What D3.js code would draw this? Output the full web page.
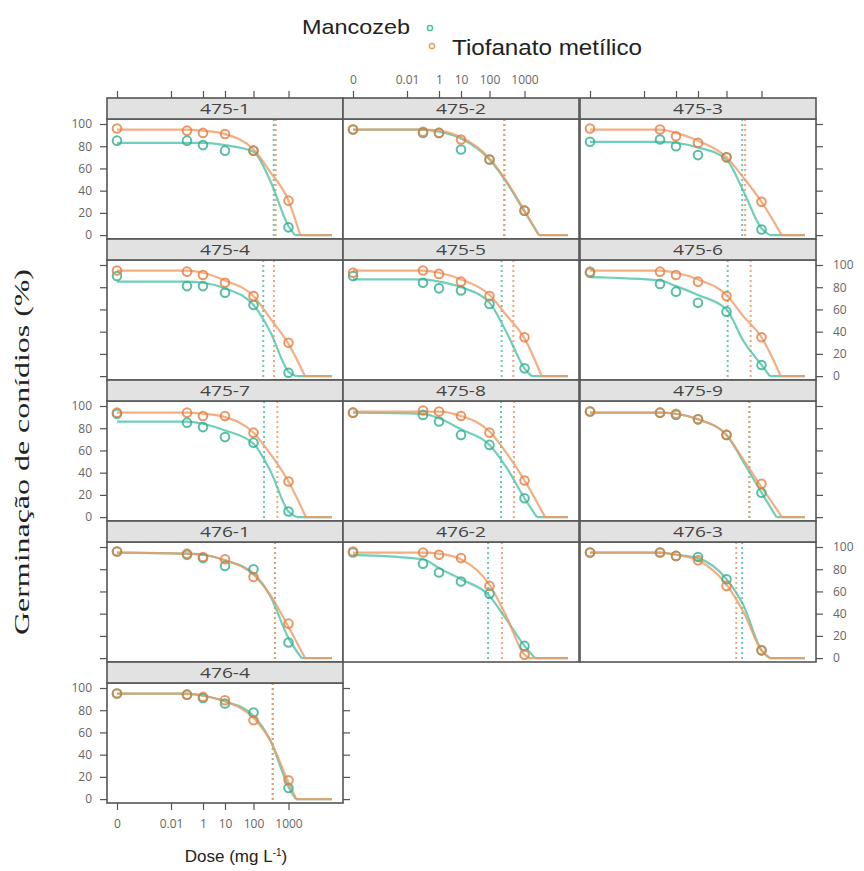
<!DOCTYPE html>
<html>
<head>
<meta charset="utf-8">
<script src="https://cdn.jsdelivr.net/npm/d3@7"></script>
<style>
  body { margin: 0; background: #fff; }
  svg { display: block; }
</style>
</head>
<body>
<script>
// ---------------- data ----------------
const panels = ["475-1","475-2","475-3","475-4","475-5","475-6","475-7","475-8","475-9","476-1","476-2","476-3","476-4"];
const seriesNames = ["Mancozeb", "Tiofanato metílico"];
const doses = [0, 0.1, 1, 10, 100, 1000];
const curveDoses = [0, 0.1, 1, 10, 100, 300, 1000];
const xTicks = [0, 0.01, 1, 10, 100, 1000];
const xTickLabels = ["0", "0.01", "1", "10", "100", "1000"];
const yTicks = [0, 20, 40, 60, 80, 100];

// observed germination (%) at each dose
const obsMancozeb = [
  [85, 85, 81, 76, 76, 7],
  [95, 92, 92, 77, 68, 22],
  [84, 86, 80, 72, 70, 5],
  [90, 81, 81, 75, 64, 3],
  [90, 84, 79, 77, 65, 7],
  [93, 83, 76, 66, 58, 10],
  [93, 85, 81, 72, 67, 5],
  [94, 92, 86, 74, 65, 17],
  [95, 94, 92, 88, 74, 22],
  [96, 93, 90, 83, 80, 14],
  [95, 85, 77, 69, 58, 11],
  [95, 95, 92, 91, 71, 7],
  [95, 94, 91, 86, 78, 10]
];
const obsTiofanato = [
  [96, 94, 92, 91, 76, 31],
  [95, 93, 92, 86, 68, 22],
  [96, 95, 89, 83, 70, 30],
  [95, 94, 91, 84, 72, 30],
  [93, 95, 92, 85, 72, 35],
  [94, 94, 91, 85, 72, 35],
  [94, 94, 91, 91, 76, 32],
  [94, 96, 95, 91, 76, 33],
  [95, 94, 93, 88, 74, 30],
  [96, 94, 91, 89, 73, 31],
  [96, 95, 93, 90, 65, 3],
  [95, 95, 92, 88, 65, 7],
  [95, 94, 92, 89, 71, 17]
];
// fitted curve values read at curveDoses
const fitMancozeb = [
  [83, 83, 83, 81, 75, 49, 8],
  [95, 95, 93, 87, 68, 48, 21],
  [84, 84, 83, 79, 68, 40, 6],
  [85, 85, 84, 79, 64, 40, 4],
  [87, 87, 85, 80, 66, 40, 7],
  [89, 86, 81, 73, 60, 32, 10],
  [86, 86, 84, 78, 66, 42, 5],
  [94, 93, 89, 79, 65, 45, 17],
  [94, 94, 93, 88, 74, 50, 22],
  [95, 94, 93, 88, 76, 56, 18],
  [93, 89, 81, 71, 56, 35, 11],
  [95, 95, 93, 90, 71, 48, 7],
  [95, 95, 93, 88, 75, 53, 11]
];
const fitTiofanato = [
  [95, 95, 94, 91, 77, 57, 31],
  [95, 95, 94, 88, 69, 49, 22],
  [95, 95, 92, 85, 70, 52, 30],
  [95, 95, 93, 86, 72, 52, 29],
  [95, 95, 93, 87, 73, 55, 34],
  [95, 95, 93, 87, 73, 54, 35],
  [94, 94, 93, 90, 76, 57, 32],
  [95, 95, 95, 91, 77, 58, 33],
  [94, 94, 93, 88, 74, 52, 27],
  [95, 94, 93, 88, 75, 57, 28],
  [95, 95, 94, 89, 66, 38, 3],
  [95, 95, 93, 88, 66, 42, 7],
  [95, 95, 93, 88, 73, 53, 15]
];
// dose at which fitted curve reaches 0
const zeroMancozeb  = [1500, 2500, 1700, 1650, 1580, 1700, 1700, 2200, 2600, 2300, 1950, 1700, 1600];
const zeroTiofanato = [2100, 2500, 3600, 2850, 2980, 3400, 3000, 3700, 3700, 2850, 1400, 1700, 1650];
// ED50 (dotted lines)
const ed50Mancozeb  = [380, 265, 280, 190, 223, 108, 200, 213, 450, 410, 89, 280, 355];
const ed50Tiofanato = [430, 265, 340, 385, 480, 490, 480, 500, 450, 410, 227, 190, 355];

// ---------------- layout / style ----------------
const W = 864, H = 871;
const colX = [107, 343, 580];
const panelW = 236;
const rowY0 = 98, rowPitch = 141, stripH = 21;
const xNodes = [-3, -2, 0, 1, 2, 3, 4.2];          // log10 dose (0 dose drawn at -3)
const xNodeRel = [10, 64, 96, 118, 146.5, 181.5, 225];
const curveEndLog = 4.2;
const yDomain = [-3.5, 104.5];
const colMan = {pt: "#2FAE8E", line: "#4CC3A6"};
const colTio = {pt: "#E67D3E", line: "#F09A65"};
const axisCol = "#555";
const tickFont = "'Open Sans', 'Liberation Sans', sans-serif";

const lx = d => d === 0 ? -3 : Math.log10(d);

const svg = d3.select("body").append("svg").attr("width", W).attr("height", H);

// legend
svg.append("text").attr("x", 302).attr("y", 34).text(seriesNames[0])
  .attr("font-family", "'Liberation Sans', Arial, sans-serif").attr("font-size", 21).attr("fill", "#222")
  .attr("textLength", 108).attr("lengthAdjust", "spacingAndGlyphs");
svg.append("circle").attr("cx", 430).attr("cy", 28).attr("r", 2.6)
  .attr("fill", "none").attr("stroke", colMan.line).attr("stroke-width", 1.5);
svg.append("circle").attr("cx", 432).attr("cy", 46).attr("r", 2.6)
  .attr("fill", "none").attr("stroke", colTio.line).attr("stroke-width", 1.5);
svg.append("text").attr("x", 452).attr("y", 55).text(seriesNames[1])
  .attr("font-family", "'Liberation Sans', Arial, sans-serif").attr("font-size", 22).attr("fill", "#222")
  .attr("textLength", 190).attr("lengthAdjust", "spacingAndGlyphs");

// axis titles
svg.append("text").attr("transform", "translate(29,452) rotate(-90)")
  .attr("text-anchor", "middle")
  .attr("font-family", "'Liberation Serif', 'Times New Roman', serif").attr("font-size", 22).attr("fill", "#222")
  .attr("textLength", 366).attr("lengthAdjust", "spacingAndGlyphs")
  .text("Germinação de conídios (%)");
const xt = svg.append("text").attr("x", 236).attr("y", 862).attr("text-anchor", "middle")
  .attr("font-family", "'Liberation Sans', Arial, sans-serif").attr("font-size", 17).attr("fill", "#222");
xt.append("tspan").text("Dose (mg L");
xt.append("tspan").attr("dy", -6).attr("font-size", 10).text("-1");
xt.append("tspan").attr("dy", 6).text(")");

function styleAxis(g) {
  g.select(".domain").remove();
  g.selectAll(".tick line").attr("stroke", axisCol).attr("stroke-width", 1.2);
  g.selectAll(".tick text").attr("fill", "#666").attr("font-size", 12).attr("font-family", tickFont);
}

panels.forEach((name, i) => {
  const col = i % 3, row = Math.floor(i / 3);
  const x0 = colX[col];
  const stripTop = rowY0 + row * rowPitch;
  const plotTop = stripTop + stripH;
  const plotBot = stripTop + rowPitch;
  const x = d3.scaleLinear().domain(xNodes).range(xNodeRel.map(r => x0 + r));
  const y = d3.scaleLinear().domain(yDomain).range([plotBot, plotTop]);
  const g = svg.append("g");

  g.append("rect").attr("x", x0).attr("y", plotTop).attr("width", panelW).attr("height", plotBot - plotTop)
    .attr("fill", "#fff");
  const clipId = "clip" + i;
  g.append("clipPath").attr("id", clipId).append("rect")
    .attr("x", x0).attr("y", plotTop).attr("width", panelW).attr("height", plotBot - plotTop);
  const inner = g.append("g").attr("clip-path", `url(#${clipId})`);

  const series = [
    {obs: obsMancozeb[i], fit: fitMancozeb[i], zero: zeroMancozeb[i], ed: ed50Mancozeb[i], c: colMan},
    {obs: obsTiofanato[i], fit: fitTiofanato[i], zero: zeroTiofanato[i], ed: ed50Tiofanato[i], c: colTio}
  ];

  // ED50 dotted lines
  series.forEach(s => {
    inner.append("line").attr("x1", x(lx(s.ed))).attr("x2", x(lx(s.ed)))
      .attr("y1", plotTop).attr("y2", plotBot)
      .attr("stroke", s.c.line).attr("stroke-width", 2).attr("stroke-dasharray", "2,3").attr("opacity", 0.85);
  });

  // fitted curves
  const lineGen = d3.line().x(d => x(lx(d[0]))).y(d => y(d[1])).curve(d3.curveMonotoneX);
  series.forEach(s => {
    const pts = curveDoses.map((d, k) => [d, s.fit[k]]);
    pts.push([s.zero, 0]);
    inner.append("path").attr("d", lineGen(pts))
      .attr("fill", "none").attr("stroke", s.c.line).attr("stroke-width", 2.2).attr("opacity", 0.8);
    inner.append("line").attr("x1", x(lx(s.zero))).attr("x2", x(curveEndLog))
      .attr("y1", y(0)).attr("y2", y(0))
      .attr("stroke", s.c.line).attr("stroke-width", 2.2).attr("opacity", 0.8);
  });

  // observed points
  series.forEach(s => {
    inner.selectAll(null).data(doses.map((d, k) => [d, s.obs[k]])).join("circle")
      .attr("cx", d => x(lx(d[0]))).attr("cy", d => y(d[1])).attr("r", 4.3)
      .attr("fill", "none").attr("stroke", s.c.pt).attr("stroke-width", 2).attr("opacity", 0.8);
  });

  // frames and strip
  g.append("rect").attr("x", x0).attr("y", plotTop).attr("width", panelW).attr("height", plotBot - plotTop)
    .attr("fill", "none").attr("stroke", axisCol).attr("stroke-width", 1.6);
  g.append("rect").attr("x", x0).attr("y", stripTop).attr("width", panelW).attr("height", stripH)
    .attr("fill", "#E2E2E2").attr("stroke", axisCol).attr("stroke-width", 1.6);
  g.append("text").attr("x", x0 + panelW / 2).attr("y", stripTop + 16).attr("text-anchor", "middle")
    .attr("font-family", tickFont).attr("font-size", 14.5).attr("fill", "#444")
    .attr("textLength", 50).attr("lengthAdjust", "spacingAndGlyphs").text(name);

  const xTickLog = xTicks.map(lx);
  const fmtX = v => xTickLabels[xTickLog.indexOf(v)];

  // top axis
  if (row === 0) {
    const ax = d3.axisTop(x).tickValues(xTickLog).tickSize(7).tickPadding(7)
      .tickFormat(col === 1 ? fmtX : () => "");
    svg.append("g").attr("transform", `translate(0,${stripTop})`).call(ax).call(styleAxis);
  }
  // bottom axis (lowest panel of first column)
  if (name === "476-4") {
    const ax = d3.axisBottom(x).tickValues(xTickLog).tickSize(7).tickPadding(9).tickFormat(fmtX);
    svg.append("g").attr("transform", `translate(0,${plotBot})`).call(ax).call(styleAxis);
  }
  // left axis
  if (col === 0) {
    const ax = d3.axisLeft(y).tickValues(yTicks).tickSize(7).tickPadding(8)
      .tickFormat(row % 2 === 0 ? d3.format("d") : () => "");
    svg.append("g").attr("transform", `translate(${x0},0)`).call(ax).call(styleAxis);
  }
  // right axis (rightmost panel in each row)
  const isRightmost = (col === 2) || (i === panels.length - 1);
  if (isRightmost) {
    const ax = d3.axisRight(y).tickValues(yTicks).tickSize(7).tickPadding(10)
      .tickFormat(row % 2 === 1 ? d3.format("d") : () => "");
    svg.append("g").attr("transform", `translate(${x0 + panelW},0)`).call(ax).call(styleAxis);
  }
});
</script>
</body>
</html>
